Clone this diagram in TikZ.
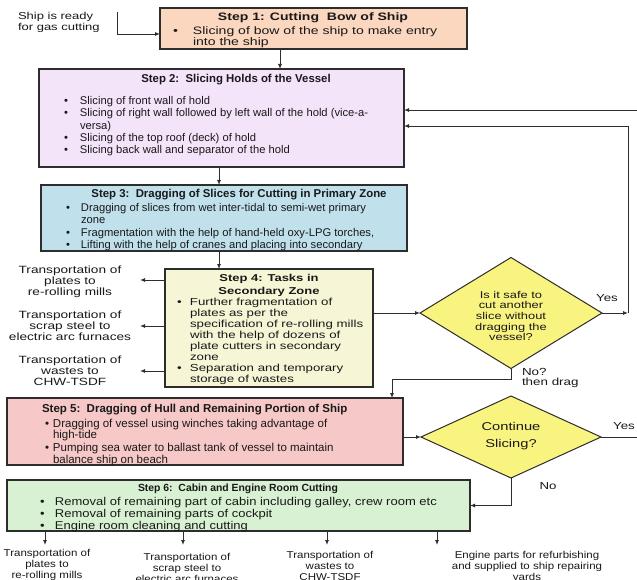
\documentclass[tikz,border=0pt]{standalone}
\usepackage{fontspec}
\setmainfont{Liberation Sans}
\newfontfamily\widefont{Liberation Sans}[FakeStretch=1.3]
\newfontfamily\semifont{Liberation Sans}[FakeStretch=1.15]
\usetikzlibrary{arrows.meta,shapes.geometric,shadows}

\definecolor{peachbox}{RGB}{250,215,190}
\definecolor{lilacbox}{RGB}{244,228,249}
\definecolor{bluebox}{RGB}{192,225,236}
\definecolor{creambox}{RGB}{246,245,214}
\definecolor{pinkbox}{RGB}{247,200,200}
\definecolor{greenbox}{RGB}{216,241,210}
\definecolor{decyellow}{RGB}{249,243,128}
\definecolor{inkline}{RGB}{45,45,45}

\newcommand\fsz[2]{\fontsize{#1pt}{#2pt}\selectfont}
\newcommand\tp{\rule{0pt}{9.5pt}}
\newcommand\bul[1]{\makebox[#1pt][l]{\tp\textbullet}}
\newcommand\ind[1]{\hspace*{#1pt}}

\tikzset{
  stepbox/.style={draw=inkline, line width=1.1pt, inner sep=0pt, outer sep=0pt,
    anchor=north west,
    general shadow={fill=black!45, shadow xshift=1pt, shadow yshift=-1pt}},
  decision/.style={diamond, draw=inkline, line width=1pt, fill=decyellow,
    inner sep=0pt, outer sep=0pt},
  txt/.style={inner sep=0pt, outer sep=0pt, align=left, anchor=north west, text=black!90},
  ctxt/.style={inner sep=0pt, outer sep=0pt, align=center, anchor=north, text=black!90},
  ttl/.style={inner sep=0pt, outer sep=0pt, anchor=base, text=black!90},
  conn/.style={draw=inkline, line width=0.9pt, -{Latex[length=5pt,width=4pt]}},
  plain/.style={draw=inkline, line width=0.9pt},
}

\begin{document}
\begin{tikzpicture}[x=1pt, y=-1pt]
\useasboundingbox (0,0) rectangle (637,580);
\fill[white] (0,0) rectangle (637,580);

% ---------- process boxes ----------
\node[stepbox, fill=peachbox,  minimum width=307pt, minimum height=41pt]  (s1) at (160,8) {};
\node[stepbox, fill=lilacbox,  minimum width=365pt, minimum height=98pt]  (s2) at (39,69) {};
\node[stepbox, fill=bluebox,   minimum width=366pt, minimum height=66pt]  (s3) at (41,185) {};
\node[stepbox, fill=creambox,  minimum width=208pt, minimum height=118pt] (s4) at (165,269) {};
\node[stepbox, fill=pinkbox,   minimum width=396pt, minimum height=67pt]  (s5) at (7,398) {};
\node[stepbox, fill=greenbox,  minimum width=463pt, minimum height=51pt]  (s6) at (7,480) {};

% ---------- decisions ----------
\node[decision, minimum width=182pt, minimum height=111pt] (d1) at (511,313) {};
\node[decision, minimum width=180pt, minimum height=82pt]  (d2) at (511,437) {};

% ---------- start note ----------
\node[txt, font={\widefont\fsz{10}{11}}] (start) at (18,9.6) {\tp Ship is ready\\for gas cutting};

% ---------- step 1 ----------
\node[ttl, font={\widefont\bfseries\fsz{10.8}{11}}] (s1t) at (313,20.5) {Step 1: Cutting\ \ Bow of Ship};
\node[txt, font={\widefont\fsz{10.8}{11.5}}] (s1b) at (173,24.8)
  {\bul{20}Slicing of bow of the ship to make entry\\\ind{20}into the ship};

% ---------- step 2 ----------
\node[ttl, font={\bfseries\fsz{11.4}{12}}] (s2t) at (236,82.8) {Step 2:\ \ Slicing Holds of the Vessel};
\node[txt, font={\fsz{11.2}{12.3}}] (s2b) at (64,95.2)
  {\bul{16}Slicing of front wall of hold\\
   \bul{16}Slicing of right wall followed by left wall of the hold (vice-a-\\
   \ind{16}versa)\\
   \bul{16}Slicing of the top roof (deck) of hold\\
   \bul{16}Slicing back wall and separator of the hold};

% ---------- step 3 ----------
\node[ttl, font={\bfseries\fsz{11.4}{12}}] (s3t) at (239,197.8) {Step 3:\ \ Dragging of Slices for Cutting in Primary Zone};
\node[txt, font={\fsz{11.2}{12.3}}] (s3b) at (66,202.2)
  {\bul{15}Dragging of slices from wet inter-tidal to semi-wet primary\\
   \ind{15}zone\\
   \bul{15}Fragmentation with the help of hand-held oxy-LPG torches,\\
   \bul{15}Lifting with the help of cranes and placing into secondary};

% ---------- step 4 ----------
\node[ctxt, font={\widefont\bfseries\fsz{10}{12.5}}] (s4t) at (269,272) {\tp Step 4: Tasks in\\Secondary Zone};
\node[txt, font={\widefont\fsz{10.2}{11}}] (s4b) at (177,295.8)
  {\bul{13}Further fragmentation of\\
   \ind{13}plates as per the\\
   \ind{13}specification of re-rolling mills\\
   \ind{13}with the help of dozens of\\
   \ind{13}plate cutters in secondary\\
   \ind{13}zone\\
   \bul{13}Separation and temporary\\
   \ind{13}storage of wastes};

% ---------- outputs of step 4 ----------
\node[ctxt, font={\widefont\fsz{10.5}{11}}] (o1) at (70,263.5) {\tp Transportation of\\plates to\\re-rolling mills};
\node[ctxt, font={\widefont\fsz{10.5}{11}}] (o2) at (70,308.5) {\tp Transportation of\\scrap steel to\\electric arc furnaces};
\node[ctxt, font={\widefont\fsz{10.5}{11}}] (o3) at (70,353.5) {\tp Transportation of\\wastes to\\CHW-TSDF};
\coordinate (o1tip) at (140,280);
\coordinate (o2tip) at (140,326);
\coordinate (o3tip) at (140,371);

% ---------- decision 1 ----------
\node[ctxt, font={\widefont\fsz{9.9}{10.7}}] (d1t) at (511,288.5)
  {\tp Is it safe to\\cut another\\slice without\\dragging the\\vessel?};
\node[ttl, font={\widefont\fsz{10.2}{10}}] (yes1) at (607,301) {Yes};
\node[txt, font={\widefont\fsz{10.3}{10}}] (nodrag) at (522,365.5) {\tp No?\\then drag};

% ---------- step 5 ----------
\node[ttl, anchor=base west, font={\bfseries\fsz{11.5}{12}}] (s5t) at (42,412.8) {Step 5:\ \ Dragging of Hull and Remaining Portion of Ship};
\node[txt, font={\fsz{11.5}{11.8}}] (s5b) at (45,417.6)
  {\bul{8}Dragging of vessel using winches taking advantage of\\
   \ind{8}high-tide\\
   \bul{8}Pumping sea water to ballast tank of vessel to maintain\\
   \ind{8}balance ship on beach};

% ---------- decision 2 ----------
\node[ctxt, font={\widefont\fsz{11.3}{17}}] (d2t) at (511,421) {\tp Continue\\Slicing?};
\node[ttl, font={\widefont\fsz{10.2}{10}}] (yes2) at (624,429) {Yes};
\node[ttl, font={\widefont\fsz{10.2}{10}}] (no2) at (548,489) {No};

% ---------- step 6 ----------
\node[ttl, font={\bfseries\fsz{10.4}{12}}] (s6t) at (238,491.4) {Step 6:\ \ Cabin and Engine Room Cutting};
\node[txt, font={\semifont\fsz{11.3}{12}}] (s6b) at (40,496.2)
  {\bul{15}Removal of remaining part of cabin including galley, crew room etc\\
   \bul{15}Removal of remaining parts of cockpit\\
   \bul{15}Engine room cleaning and cutting};

% ---------- outputs of step 6 ----------
\node[ctxt, font={\semifont\fsz{10}{11}}] (e1) at (47,547.3)  {\tp Transportation of\\plates to\\re-rolling mills};
\node[ctxt, font={\semifont\fsz{10}{11}}] (e2) at (187,551.3) {\tp Transportation of\\scrap steel to\\electric arc furnaces};
\node[ctxt, font={\semifont\fsz{10}{11}}] (e3) at (330,549.3) {\tp Transportation of\\wastes to\\CHW-TSDF};
\node[ctxt, font={\semifont\fsz{10}{11}}] (e4) at (527,549.3) {\tp Engine parts for refurbishing\\and supplied to ship repairing\\yards};

% ---------- helper points ----------
\coordinate (startbend) at (117,12);
\coordinate (colA) at (280,0);
\coordinate (colB) at (219,0);
\coordinate (loopc) at (628,313);
\coordinate (edgeA) at (637,110);
\coordinate (edgeB) at (637,437);
\coordinate (dragc) at (392,379);
\coordinate (b1) at (45,545);
\coordinate (b2) at (183,545);
\coordinate (b3) at (327,545);
\coordinate (b4) at (437,545);

% ---------- connectors ----------
\draw[conn] (startbend) |- ([yshift=-26pt]s1.north west);
\draw[conn] (s1.south -| colA) -- (s2.north -| colA);
\draw[conn] (s2.south -| colB) -- (s3.north -| colB);
\draw[conn] (s3.south -| colB) -- (s4.north -| colB);
\draw[conn] (s4.west |- o1tip) -- (o1tip);
\draw[conn] (s4.west |- o2tip) -- (o2tip);
\draw[conn] (s4.west |- o3tip) -- (o3tip);
\draw[conn] (s4.east |- d1.west) -- (d1.west);
\draw[conn] (d1.east) -- (loopc);
\draw[conn] (loopc) |- ([yshift=-57pt]s2.north east);
\draw[conn] (edgeA) -- (edgeA -| s2.east);
\draw[conn] (d1.south) |- (dragc) -- (dragc |- s5.north);
\draw[conn] (s5.east |- d2.west) -- (d2.west);
\draw[plain] (d2.east) -- (edgeB);
\draw[conn] (d2.south) |- (s6.east);
\draw[conn] (s6.south -| b1) -- (b1);
\draw[conn] (s6.south -| b2) -- (b2);
\draw[conn] (s6.south -| b3) -- (b3);
\draw[conn] (s6.south -| b4) -- (b4);
\end{tikzpicture}
\end{document}
